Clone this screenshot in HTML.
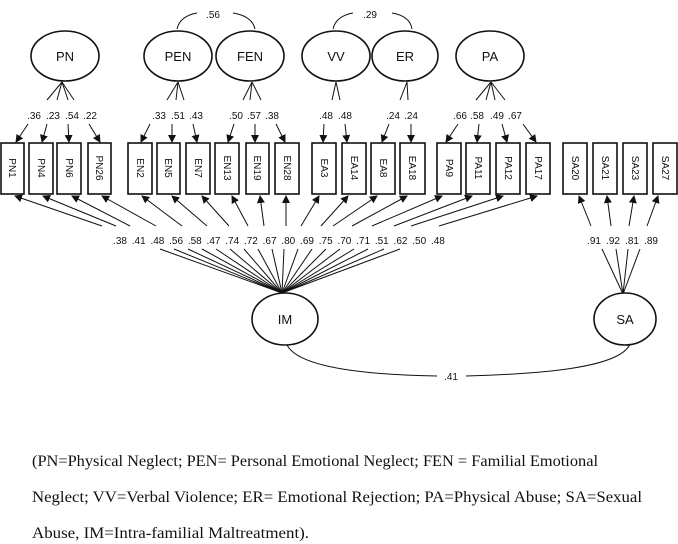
<!DOCTYPE html>
<html><head><meta charset="utf-8"><style>
html,body{margin:0;padding:0;background:#fff;}
svg{display:block;}
.t{font-family:"Liberation Sans",sans-serif;font-size:10px;fill:#111;}
.e{font-family:"Liberation Sans",sans-serif;font-size:13px;fill:#111;}
.c{font-family:"Liberation Serif",serif;font-size:15.5px;fill:#111;}
line,path,rect,ellipse{stroke:#111;fill:none;stroke-width:1;}
rect,ellipse{stroke-width:1.6;fill:#fff;}
</style></head><body>
<svg width="678" height="544" viewBox="0 0 678 544" xmlns="http://www.w3.org/2000/svg">
<defs><marker id="a" markerWidth="8" markerHeight="8" refX="7" refY="4" orient="auto" markerUnits="userSpaceOnUse"><path d="M0,0 L8,4 L0,8 z" style="fill:#111;stroke:none"/></marker></defs>

<!-- correlation arcs -->
<path d="M177,29 Q180,16 197,13"/><path d="M233,13 Q252,16 255,29"/>
<text class="t" x="213" y="18" text-anchor="middle">.56</text>
<path d="M333,29 Q336,16 353,13"/><path d="M392,13 Q410,16 412,29"/>
<text class="t" x="370" y="18" text-anchor="middle">.29</text>

<!-- fan lines from factors -->
<g>
<line x1="62" y1="82" x2="47" y2="100"/><line x1="62" y1="82" x2="57" y2="100"/><line x1="62" y1="82" x2="68" y2="100"/><line x1="62" y1="82" x2="74" y2="100"/>
<line x1="178" y1="82" x2="167" y2="100"/><line x1="178" y1="82" x2="176" y2="100"/><line x1="178" y1="82" x2="184" y2="100"/>
<line x1="252" y1="82" x2="243" y2="100"/><line x1="252" y1="82" x2="250" y2="100"/><line x1="252" y1="82" x2="261" y2="100"/>
<line x1="336" y1="82" x2="332" y2="100"/><line x1="336" y1="82" x2="340" y2="100"/>
<line x1="407" y1="82" x2="400" y2="100"/><line x1="407" y1="82" x2="408" y2="100"/>
<line x1="491" y1="82" x2="476" y2="100"/><line x1="491" y1="82" x2="486" y2="100"/><line x1="491" y1="82" x2="495" y2="100"/><line x1="491" y1="82" x2="505" y2="100"/>
</g>

<!-- factor ellipses -->
<ellipse cx="65" cy="56" rx="34" ry="25"/><text class="e" x="65" y="61" text-anchor="middle">PN</text>
<ellipse cx="178" cy="56" rx="34" ry="25"/><text class="e" x="178" y="61" text-anchor="middle">PEN</text>
<ellipse cx="250" cy="56" rx="34" ry="25"/><text class="e" x="250" y="61" text-anchor="middle">FEN</text>
<ellipse cx="336" cy="56" rx="34" ry="25"/><text class="e" x="336" y="61" text-anchor="middle">VV</text>
<ellipse cx="405" cy="56" rx="33" ry="25"/><text class="e" x="405" y="61" text-anchor="middle">ER</text>
<ellipse cx="490" cy="56" rx="34" ry="25"/><text class="e" x="490" y="61" text-anchor="middle">PA</text>

<!-- upper loading labels -->
<g class="t" text-anchor="middle">
<text x="34" y="119">.36</text><text x="53" y="119">.23</text><text x="72" y="119">.54</text><text x="90" y="119">.22</text>
<text x="159" y="119">.33</text><text x="178" y="119">.51</text><text x="196" y="119">.43</text>
<text x="236" y="119">.50</text><text x="254" y="119">.57</text><text x="272" y="119">.38</text>
<text x="326" y="119">.48</text><text x="345" y="119">.48</text>
<text x="393" y="119">.24</text><text x="411" y="119">.24</text>
<text x="460" y="119">.66</text><text x="477" y="119">.58</text><text x="497" y="119">.49</text><text x="515" y="119">.67</text>
</g>

<!-- upper arrows -->
<g marker-end="url(#a)">
<line x1="28" y1="124" x2="16" y2="142"/><line x1="47" y1="124" x2="42" y2="142"/><line x1="68" y1="124" x2="69" y2="142"/><line x1="89" y1="124" x2="100" y2="142"/>
<line x1="150" y1="124" x2="141" y2="142"/><line x1="172" y1="124" x2="172" y2="142"/><line x1="193" y1="124" x2="197" y2="142"/>
<line x1="234" y1="124" x2="228" y2="142"/><line x1="255" y1="124" x2="255" y2="142"/><line x1="276" y1="124" x2="285" y2="142"/>
<line x1="324" y1="124" x2="323" y2="142"/><line x1="345" y1="124" x2="347" y2="142"/>
<line x1="389" y1="124" x2="382" y2="142"/><line x1="411" y1="124" x2="411" y2="142"/>
<line x1="458" y1="124" x2="446" y2="142"/><line x1="479" y1="124" x2="477" y2="142"/><line x1="502" y1="124" x2="507" y2="142"/>
<line x1="523" y1="124" x2="536" y2="142"/>
</g>

<!-- boxes -->
<g>
<rect x="1" y="143" width="23" height="51"/><rect x="29" y="143" width="24" height="51"/><rect x="57" y="143" width="24" height="51"/><rect x="88" y="143" width="23" height="51"/>
<rect x="128" y="143" width="24" height="51"/><rect x="157" y="143" width="23" height="51"/><rect x="186" y="143" width="24" height="51"/><rect x="215" y="143" width="24" height="51"/><rect x="246" y="143" width="23" height="51"/><rect x="275" y="143" width="24" height="51"/>
<rect x="312" y="143" width="24" height="51"/><rect x="342" y="143" width="24" height="51"/><rect x="371" y="143" width="24" height="51"/><rect x="400" y="143" width="25" height="51"/>
<rect x="437" y="143" width="24" height="51"/><rect x="466" y="143" width="24" height="51"/><rect x="496" y="143" width="24" height="51"/><rect x="526" y="143" width="24" height="51"/>
<rect x="563" y="143" width="24" height="51"/><rect x="593" y="143" width="24" height="51"/><rect x="623" y="143" width="24" height="51"/><rect x="653" y="143" width="24" height="51"/>
</g>
<g class="t" text-anchor="middle">
<text transform="translate(9,168) rotate(90)">PN1</text>
<text transform="translate(38,168) rotate(90)">PN4</text>
<text transform="translate(66,168) rotate(90)">PN6</text>
<text transform="translate(96,168) rotate(90)">PN26</text>
<text transform="translate(137,168) rotate(90)">EN2</text>
<text transform="translate(165,168) rotate(90)">EN5</text>
<text transform="translate(195,168) rotate(90)">EN7</text>
<text transform="translate(224,168) rotate(90)">EN13</text>
<text transform="translate(254,168) rotate(90)">EN19</text>
<text transform="translate(284,168) rotate(90)">EN28</text>
<text transform="translate(321,168) rotate(90)">EA3</text>
<text transform="translate(351,168) rotate(90)">EA14</text>
<text transform="translate(380,168) rotate(90)">EA8</text>
<text transform="translate(409,168) rotate(90)">EA18</text>
<text transform="translate(446,168) rotate(90)">PA9</text>
<text transform="translate(475,168) rotate(90)">PA11</text>
<text transform="translate(505,168) rotate(90)">PA12</text>
<text transform="translate(535,168) rotate(90)">PA17</text>
<text transform="translate(572,168) rotate(90)">SA20</text>
<text transform="translate(602,168) rotate(90)">SA21</text>
<text transform="translate(632,168) rotate(90)">SA23</text>
<text transform="translate(662,168) rotate(90)">SA27</text>
</g>

<!-- IM arrows to boxes -->
<g marker-end="url(#a)">
<line x1="102" y1="226" x2="15" y2="196"/><line x1="116" y1="226" x2="43" y2="196"/><line x1="130" y1="226" x2="72" y2="196"/><line x1="156" y1="226" x2="102" y2="196"/>
<line x1="182" y1="226" x2="142" y2="196"/><line x1="207" y1="226" x2="172" y2="196"/><line x1="229" y1="226" x2="202" y2="196"/><line x1="248" y1="226" x2="232" y2="196"/><line x1="264" y1="226" x2="260" y2="196"/><line x1="286" y1="226" x2="286" y2="196"/>
<line x1="301" y1="226" x2="319" y2="196"/><line x1="321" y1="226" x2="348" y2="196"/><line x1="333" y1="226" x2="377" y2="196"/><line x1="352" y1="226" x2="407" y2="196"/>
<line x1="372" y1="226" x2="442" y2="196"/><line x1="394" y1="226" x2="472" y2="196"/><line x1="411" y1="226" x2="503" y2="196"/><line x1="439" y1="226" x2="537" y2="196"/>
<line x1="591" y1="226" x2="579" y2="196"/><line x1="611" y1="226" x2="607" y2="196"/><line x1="629" y1="226" x2="634" y2="196"/><line x1="647" y1="226" x2="658" y2="196"/>
</g>

<!-- lower labels -->
<g class="t" text-anchor="middle">
<text x="120" y="244">.38</text><text x="138.7" y="244">.41</text><text x="157.4" y="244">.48</text><text x="176.1" y="244">.56</text><text x="194.8" y="244">.58</text><text x="213.5" y="244">.47</text><text x="232.2" y="244">.74</text><text x="250.9" y="244">.72</text><text x="269.6" y="244">.67</text><text x="288.3" y="244">.80</text><text x="307" y="244">.69</text><text x="325.7" y="244">.75</text><text x="344.4" y="244">.70</text><text x="363.1" y="244">.71</text><text x="381.8" y="244">.51</text><text x="400.5" y="244">.62</text><text x="419.2" y="244">.50</text><text x="437.9" y="244">.48</text>
<text x="594" y="244">.91</text><text x="613" y="244">.92</text><text x="632" y="244">.81</text><text x="651" y="244">.89</text>
</g>

<!-- fan to IM -->
<g>
<line x1="282" y1="293" x2="160" y2="249"/><line x1="282" y1="293" x2="174" y2="249"/><line x1="282" y1="293" x2="188" y2="249"/><line x1="282" y1="293" x2="202" y2="249"/><line x1="282" y1="293" x2="216" y2="249"/><line x1="282" y1="293" x2="230" y2="249"/><line x1="282" y1="293" x2="244" y2="249"/><line x1="282" y1="293" x2="258" y2="249"/><line x1="282" y1="293" x2="272" y2="249"/><line x1="282" y1="293" x2="284" y2="249"/><line x1="282" y1="293" x2="298" y2="249"/><line x1="282" y1="293" x2="312" y2="249"/><line x1="282" y1="293" x2="326" y2="249"/><line x1="282" y1="293" x2="340" y2="249"/><line x1="282" y1="293" x2="354" y2="249"/><line x1="282" y1="293" x2="368" y2="249"/><line x1="282" y1="293" x2="384" y2="249"/><line x1="282" y1="293" x2="400" y2="249"/>
<line x1="623" y1="294" x2="602" y2="249"/><line x1="623" y1="294" x2="616" y2="249"/><line x1="623" y1="294" x2="628" y2="249"/><line x1="623" y1="294" x2="640" y2="249"/>
</g>

<ellipse cx="285" cy="319" rx="33" ry="26"/><text class="e" x="285" y="324" text-anchor="middle">IM</text>
<ellipse cx="625" cy="319" rx="31" ry="26"/><text class="e" x="625" y="324" text-anchor="middle">SA</text>

<path d="M287,345 C300,370 380,375 437,376"/>
<path d="M466,376 C540,374 620,368 630,344"/>
<text class="t" x="451" y="380" text-anchor="middle">.41</text>

<!-- caption -->
<text class="c" x="32" y="466" textLength="566" lengthAdjust="spacingAndGlyphs">(PN=Physical Neglect; PEN= Personal Emotional Neglect; FEN = Familial Emotional</text>
<text class="c" x="32" y="502" textLength="610" lengthAdjust="spacingAndGlyphs">Neglect; VV=Verbal Violence; ER= Emotional Rejection; PA=Physical Abuse; SA=Sexual</text>
<text class="c" x="32" y="538" textLength="277" lengthAdjust="spacingAndGlyphs">Abuse, IM=Intra-familial Maltreatment).</text>
</svg>
</body></html>
